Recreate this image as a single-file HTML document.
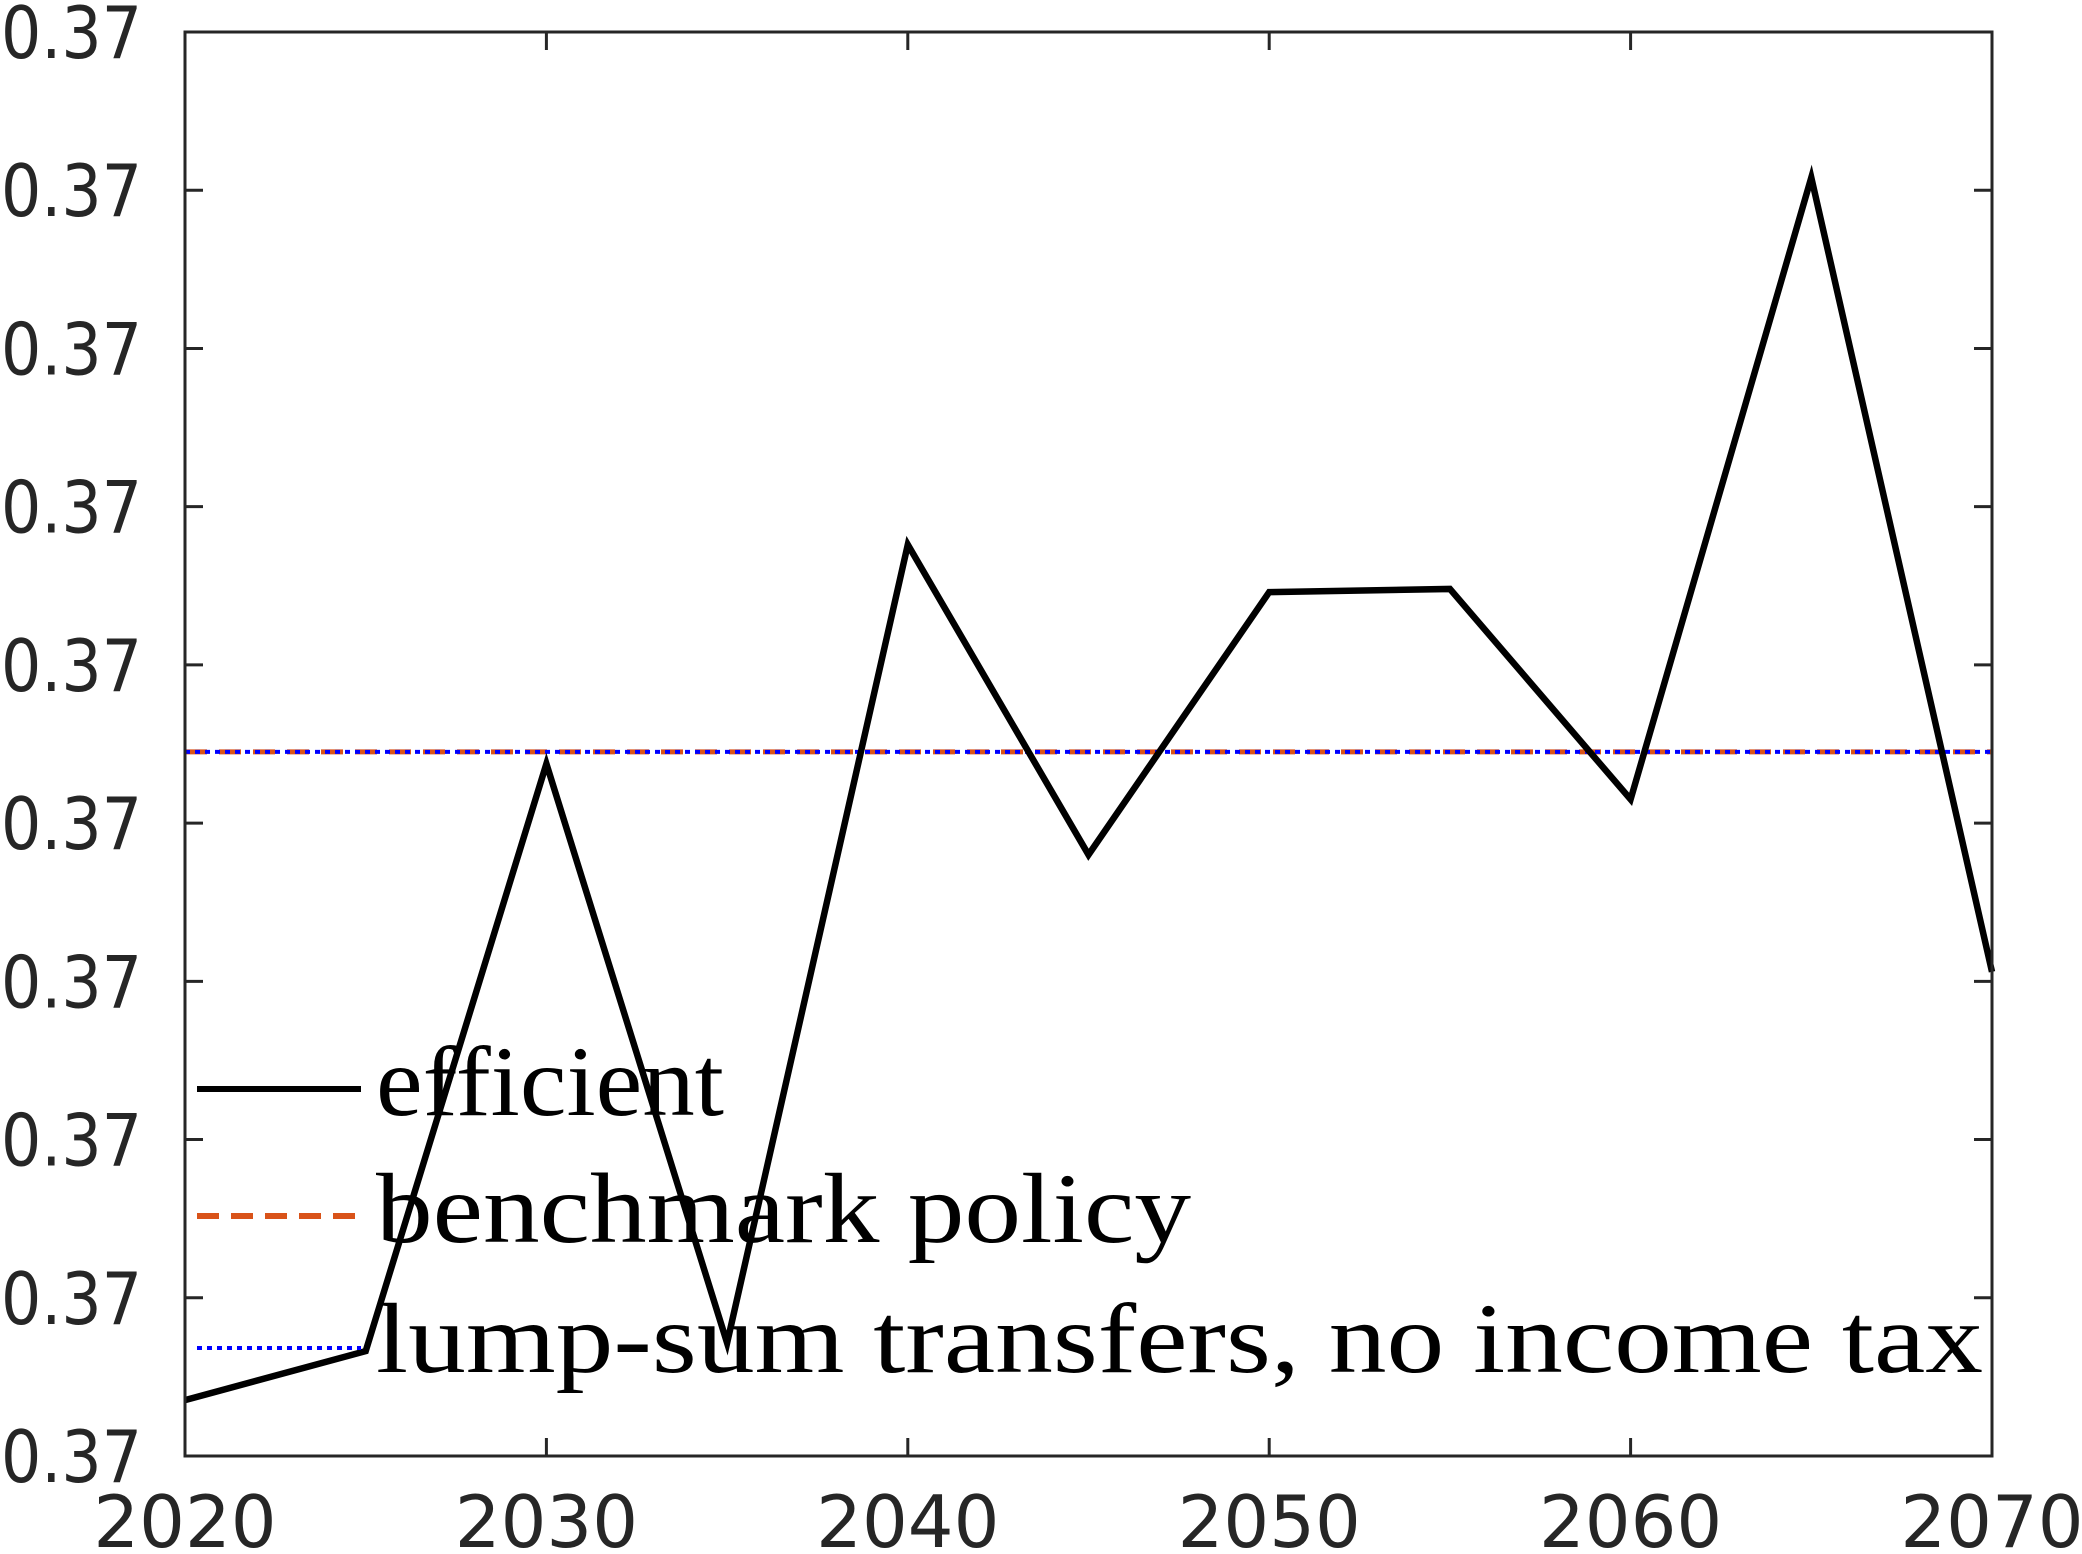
<!DOCTYPE html>
<html><head><meta charset="utf-8"><style>body{margin:0;background:#fff}svg{display:block}</style></head>
<body>
<svg id="chart" width="2082" height="1554" xmlns="http://www.w3.org/2000/svg">
<rect width="2082" height="1554" fill="#fff"/>
<g id="marks"></g>
<rect x="185" y="32" width="1807" height="1424" fill="none" stroke="#262626" stroke-width="3"/>
<g id="axes"></g>
<g font-family="'Liberation Serif', serif" font-size="100" fill="#000">
<line x1="197" y1="1089" x2="361" y2="1089" stroke="#000" stroke-width="6"/>
<text x="376" y="1115" textLength="348" lengthAdjust="spacingAndGlyphs">efficient</text>
<line x1="197" y1="1216" x2="361" y2="1216" stroke="#D95319" stroke-width="6" stroke-dasharray="22,12"/>
<text x="376" y="1242" textLength="815" lengthAdjust="spacingAndGlyphs">benchmark policy</text>
<line x1="197" y1="1348" x2="361" y2="1348" stroke="#0000FF" stroke-width="4" stroke-dasharray="5,5"/>
<text x="376" y="1372" textLength="1607" lengthAdjust="spacingAndGlyphs">lump-sum transfers, no income tax</text>
</g>
</svg>
<script>
const years = [2020,2025,2030,2035,2040,2045,2050,2055,2060,2065,2070];
const efficient = [0.353,0.663,4.375,0.714,5.76,3.80,5.46,5.48,4.15,8.08,3.06];
const benchmark = [4.45,4.45];
const lumpSum = [4.45,4.45];
const xTicks = [2020,2030,2040,2050,2060,2070];
const yTickLabels = ["0.37","0.37","0.37","0.37","0.37","0.37","0.37","0.37","0.37","0.37"];
const X0=185,X1=1992,Y0=1456,Y1=32;
const x=v=>X0+(v-2020)/50*(X1-X0);
const y=v=>Y0-v/9*(Y0-Y1);
const NS="http://www.w3.org/2000/svg";
const marks=document.getElementById('marks'),axes=document.getElementById('axes');
function mk(tag,attrs,parent){const e=document.createElementNS(NS,tag);for(const k in attrs)e.setAttribute(k,attrs[k]);parent.appendChild(e);return e;}
let p=mk('polyline',{points:[years[0],years[years.length-1]].map((t,i)=>x(t)+','+y(benchmark[i])).join(' '),fill:'none',stroke:'#D95319','stroke-width':5,'stroke-dasharray':'22,12'},marks);


p=mk('polyline',{points:[years[0],years[years.length-1]].map((t,i)=>x(t)+','+y(lumpSum[i])).join(' '),fill:'none',stroke:'#0000FF','stroke-width':4,'stroke-dasharray':'5,5'},marks);


p=mk('polyline',{points:years.map((t,i)=>x(t)+','+y(efficient[i])).join(' '),fill:'none',stroke:'#000','stroke-width':6.5,'stroke-linejoin':'miter'},marks);


xTicks.forEach(t=>{
  const xx=x(t);
  let l=mk('line',{x1:xx,y1:Y0,x2:xx,y2:Y0-18,stroke:'#262626','stroke-width':3},axes);
  
  
  l=mk('line',{x1:xx,y1:Y1,x2:xx,y2:Y1+18,stroke:'#262626','stroke-width':3},axes);
  
  
  const tx=mk('text',{x:xx,y:1547,'text-anchor':'middle','font-family':"'DejaVu Sans', sans-serif",'font-size':72,fill:'#262626'},axes);
  tx.textContent=t;
  
  
});
yTickLabels.forEach((lab,i)=>{
  const yy=y(i);
  let l=mk('line',{x1:X0,y1:yy,x2:X0+18,y2:yy,stroke:'#262626','stroke-width':3},axes);
  
  
  l=mk('line',{x1:X1,y1:yy,x2:X1-18,y2:yy,stroke:'#262626','stroke-width':3},axes);
  
  
  const tx=mk('text',{x:1,y:yy+26,'font-family':"'DejaVu Sans', sans-serif",'font-size':72,fill:'#262626',textLength:141,lengthAdjust:'spacingAndGlyphs'},axes);
  tx.textContent=lab;
  
  
});
</script>
</body></html>
